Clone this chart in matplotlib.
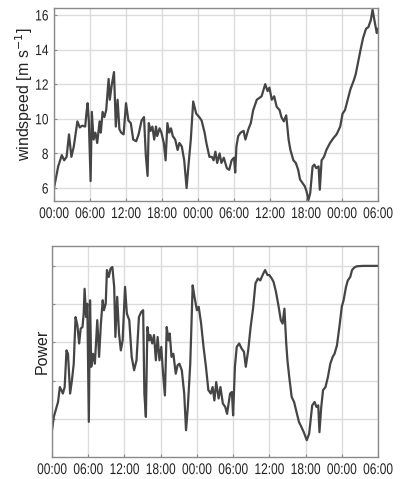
import matplotlib
matplotlib.use("Agg")
import matplotlib.pyplot as plt
from matplotlib import patheffects
from matplotlib.path import Path
from matplotlib.transforms import Affine2D

# ---- data (hours since start) ----
wind_t = [0, 0.7, 1.3, 1.7, 2.1, 2.5, 2.9, 3.3, 3.9, 4.3, 4.7, 5.2, 5.4, 5.6, 5.8,
          6.1, 6.3, 6.6, 6.9, 7.2, 7.6, 7.8, 8.1, 8.4, 8.7, 9.1, 9.3, 9.6, 10.0,
          10.3, 10.6, 10.9, 11.2, 11.6, 12.0, 12.4, 12.8, 13.2, 13.7, 14.1, 14.6,
          15.0, 15.3, 15.6, 15.8, 16.1, 16.4, 16.7, 17.0, 17.2, 17.6, 17.9, 18.3,
          18.6, 18.9, 19.2, 19.5, 19.8, 20.2, 20.6, 20.9, 21.3, 21.7, 22.1, 22.4,
          22.8, 23.2, 23.7, 24.2, 24.6, 25.1, 25.4, 25.9, 26.3, 26.6, 26.9, 27.2,
          27.6, 27.9, 28.3, 28.8, 29.2, 29.6, 30.0, 30.2, 30.4, 30.7, 31.1, 31.6,
          31.9, 32.4, 32.8, 33.2, 33.8, 34.2, 34.6, 35.2, 35.6, 35.9, 36.3, 36.7,
          37.1, 37.6, 37.9, 38.3, 38.7, 39.1, 39.4, 39.9, 40.3, 40.7, 41.0, 41.4,
          41.8, 42.1, 42.4, 42.7, 43.1, 43.4, 43.7, 44.1, 44.3, 44.6, 45.0, 45.4,
          46.0, 46.6, 47.1, 47.7, 48.1, 48.5, 49.1, 49.4, 50.0, 50.3, 50.7, 51.1,
          51.5, 52.0, 52.4, 52.8, 53.1, 53.5, 53.8, 54.0]
wind_v = [6.0, 7.25, 7.9, 7.6, 7.8, 9.1, 7.8, 8.4, 9.85, 9.5, 9.6, 9.55, 10.3,
          10.9, 9.9, 6.4, 10.4, 8.8, 9.2, 8.6, 9.85, 9.2, 10.4, 10.1, 10.5, 12.3,
          11.1, 11.9, 12.7, 9.55, 11.1, 9.4, 9.2, 9.1, 10.9, 9.9, 9.75, 8.8, 8.7,
          9.1, 9.9, 10.1, 7.9, 6.7, 9.75, 9.3, 9.55, 8.8, 9.55, 9.0, 9.45, 9.2,
          8.6, 7.6, 9.75, 9.2, 9.45, 9.0, 8.8, 8.2, 8.6, 8.4, 7.6, 6.0, 7.25, 8.8,
          11.0, 10.3, 10.1, 9.9, 9.2, 8.6, 7.8, 7.8, 7.6, 8.1, 7.45, 8.0, 7.45,
          7.75, 7.15, 7.05, 7.6, 7.75, 6.9, 8.4, 9.0, 9.2, 9.3, 8.8, 9.4, 9.75,
          10.5, 11.1, 11.2, 11.3, 12.0, 11.6, 11.8, 11.1, 11.3, 10.7, 10.5, 10.1,
          9.85, 10.2, 8.8, 8.2, 7.6, 7.45, 7.05, 6.5, 6.3, 6.1, 5.8, 5.3, 5.7,
          7.25, 7.35, 7.15, 7.25, 5.9, 7.6, 7.8, 8.2, 8.6, 8.9, 9.1, 9.55, 10.3,
          10.5, 11.3, 11.7, 12.25, 12.6, 13.3, 14.0, 14.65, 15.2, 15.3, 15.7,
          16.3, 15.5, 14.95, 15.2]

power_t = [0, 0.3, 0.7, 1.0, 1.3, 1.55, 1.8, 2.1, 2.4, 2.65, 3.0, 3.3, 3.6, 3.9,
           4.2, 4.5, 4.75, 5.05, 5.25, 5.4, 5.65, 5.85, 6.1, 6.3, 6.5, 6.8, 7.1,
           7.5, 7.8, 8.1, 8.4, 8.6, 8.9, 9.1, 9.4, 9.7, 10.0, 10.3, 10.5, 10.8,
           11.1, 11.4, 11.7, 12.1, 12.4, 12.8, 13.2, 13.6, 14.0, 14.4, 14.8, 15.1,
           15.3, 15.55, 15.8, 16.1, 16.3, 16.6, 16.9, 17.2, 17.5, 17.8, 18.1, 18.4,
           18.7, 19.0, 19.3, 19.5, 19.8, 20.1, 20.5, 20.8, 21.1, 21.5, 21.9, 22.2,
           22.5, 22.9, 23.3, 23.6, 24.0, 24.3, 24.7, 25.1, 25.5, 25.9, 26.3, 26.6,
           26.9, 27.2, 27.6, 27.9, 28.3, 28.7, 29.0, 29.5, 29.8, 30.0, 30.3, 30.6,
           31.0, 31.4, 31.8, 32.1, 32.5, 32.9, 33.3, 33.7, 34.1, 34.5, 35.0, 35.3,
           35.7, 36.0, 36.4, 36.7, 37.1, 37.5, 37.9, 38.2, 38.5, 38.8, 39.0, 39.3,
           39.7, 40.1, 40.5, 40.9, 41.3, 41.7, 42.2, 42.6, 43.1, 43.5, 43.8, 44.1,
           44.3, 44.6, 44.9, 45.3, 45.7, 46.1, 46.5, 46.8, 47.2, 47.6, 48.0, 48.3,
           48.7, 49.0, 49.4, 49.7, 50.1, 50.5, 51.6, 54.0]
power_v = [0.7, 1.05, 1.27, 1.44, 1.83, 1.75, 1.66, 1.83, 2.79, 2.7, 1.66, 2.0,
           2.44, 3.66, 3.45, 2.97, 3.36, 3.4, 3.75, 4.4, 3.66, 4.01, 0.92, 4.1,
           2.36, 2.7, 2.44, 3.58, 2.62, 3.49, 4.1, 3.84, 4.01, 4.89, 4.71, 4.93,
           4.97, 4.45, 3.14, 4.19, 3.23, 2.79, 3.05, 4.45, 3.75, 3.58, 2.62, 2.27,
           2.53, 3.66, 3.8, 3.84, 1.66, 1.05, 3.4, 3.05, 3.19, 2.97, 3.19, 2.53,
           3.14, 2.53, 2.88, 2.18, 1.61, 3.4, 3.05, 3.23, 2.62, 2.7, 2.18, 2.4,
           2.44, 2.27, 1.66, 0.7, 1.31, 2.44, 4.49, 4.19, 3.84, 3.93, 3.49, 2.88,
           2.36, 1.75, 1.66, 1.83, 1.48, 1.96, 1.53, 1.83, 1.4, 1.31, 1.13, 1.66,
           1.7, 1.09, 2.36, 2.88, 2.97, 2.84, 2.75, 2.36, 2.79, 3.4, 3.88, 4.54,
           4.67, 4.62, 4.8, 4.89, 4.76, 4.76, 4.67, 4.58, 4.32, 3.97, 3.58, 3.49,
           3.88, 2.97, 2.53, 2.09, 1.57, 1.44, 1.18, 0.92, 0.79, 0.65, 0.44, 0.61,
           1.35, 1.44, 1.31, 1.35, 0.65, 1.31, 1.75, 1.83, 2.09, 2.44, 2.62, 2.7,
           2.92, 3.4, 3.93, 4.1, 4.45, 4.62, 4.71, 4.89, 4.96, 4.99, 5.0, 5.0]

tick_hours = [0, 6, 12, 18, 24, 30, 36, 42, 48, 54]
tick_labels = ["00:00", "06:00", "12:00", "18:00", "00:00", "06:00",
               "12:00", "18:00", "00:00", "06:00"]
wind_ticks = [6, 8, 10, 12, 14, 16]
power_ticks = [1, 2, 3, 4, 5]


# ---- tall, condensed-looking tick text (vertical stretch of the glyphs) ----
class Stretch(patheffects.AbstractPathEffect):
    def __init__(self, sy=1.3, anchor="top"):
        super().__init__()
        self.sy = sy
        self.anchor = anchor

    def draw_path(self, renderer, gc, tpath, affine, rgbFace=None):
        verts = tpath.vertices
        codes = tpath.codes
        if codes is not None:
            verts = verts[codes != Path.CLOSEPOLY]
        if len(verts) == 0:
            return
        ys = verts[:, 1]
        a = ys.max() if self.anchor == "top" else (ys.min() + ys.max()) / 2
        t = Affine2D().translate(0, -a).scale(1, self.sy).translate(0, a)
        renderer.draw_path(gc, tpath, t + affine, rgbFace)


plt.rcParams["font.family"] = ["Liberation Sans", "DejaVu Sans"]
fs = 8.6
lfs = 11.5

line_col = "#454545"
grid_col = "#dcdcdc"
spine_col = "#8a8a8a"
text_col = "#222222"

fig = plt.figure(figsize=(4.06, 4.79), dpi=100)
ax1 = fig.add_axes([54 / 406, 1 - 201 / 479, 324 / 406, 193 / 479])
ax2 = fig.add_axes([52 / 406, 1 - 457 / 479, 326 / 406, 211 / 479])


def style(ax):
    ax.set_xlim(0, 54)
    ax.set_xticks(tick_hours)
    ax.set_xticklabels(tick_labels)
    ax.grid(True, color=grid_col, linewidth=1.0)
    ax.set_axisbelow(True)
    for s in ax.spines.values():
        s.set_color(spine_col)
        s.set_linewidth(1.0)
    ax.tick_params(length=2, direction="in", colors=spine_col,
                   labelcolor=text_col, labelsize=fs, pad=4)
    for lab in ax.get_xticklabels():
        lab.set_path_effects([Stretch(1.3, "top")])
    for lab in ax.get_yticklabels():
        lab.set_path_effects([Stretch(1.25, "center")])


ax1.plot(wind_t, wind_v, color=line_col, linewidth=1.6)
ax1.set_ylim(5.25, 16.4)
ax1.set_yticks(wind_ticks)
style(ax1)
ax1.set_ylabel("windspeed [m s$^{-1}$]", fontsize=lfs, color=text_col)
ax1.yaxis.set_label_coords(-0.058, 0.554)

ax2.plot(power_t, power_v, color=line_col, linewidth=1.6)
ax2.set_ylim(0, 5.52)
ax2.set_yticks(power_ticks)
ax2.set_yticklabels([])
style(ax2)
ax2.set_ylabel("Power", fontsize=lfs, color=text_col)
ax2.yaxis.set_label_coords(-0.006, 0.50)

fig.savefig("out.png", dpi=100)
